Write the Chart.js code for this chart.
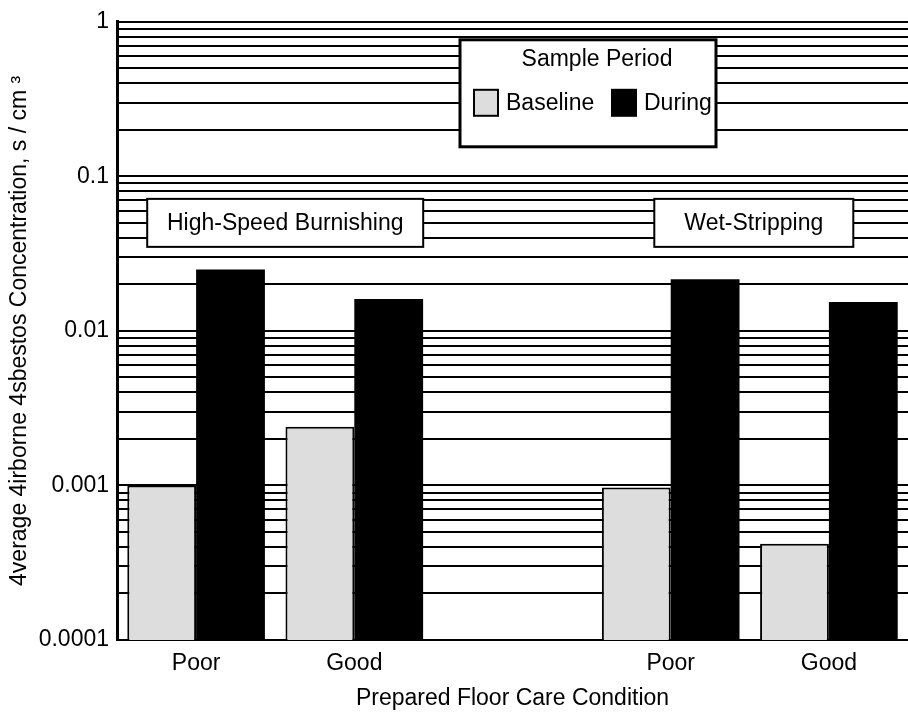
<!DOCTYPE html>
<html>
<head>
<meta charset="utf-8">
<title>Airborne Asbestos Concentration</title>
<script src="https://cdn.jsdelivr.net/npm/chart.js@4"></script>
<style>
    html, body { margin: 0; padding: 0; background: #fff; }
    #wrap { width: 908px; height: 712px; position: relative; }
</style>
</head>
<body>
<div id="wrap"><canvas id="chart"></canvas></div>
<script>
// data
const categories = ['Poor', 'Good', '', 'Poor', 'Good'];
const baseline = [0.001, 0.0024, null, 0.00097, 0.00042];
const during = [0.025, 0.0161, null, 0.0216, 0.0154];
const seriesNames = ['Baseline', 'During'];
const yDecadeLabels = ['0.0001', '0.001', '0.01', '0.1', '1'];
const minorSteps = [2, 3, 4, 5, 6, 7, 8, 9];
const groupNotes = ['High-Speed Burnishing', 'Wet-Stripping'];
const legendTitle = 'Sample Period';
const xTitle = 'Prepared Floor Care Condition';
const yTitle = '4verage 4irborne 4sbestos Concentration, s / cm \u00b3';

const FONT = '"Liberation Sans", Arial, sans-serif';
const GRAY = '#dddddd';
const decades = yDecadeLabels.map(Number);

// gridline positions: every decade plus 2..9 inside it
const yTickValues = [];
decades.forEach((d, i) => {
    yTickValues.push(d);
    if (i < decades.length - 1) {
        minorSteps.forEach(k => yTickValues.push(d * k));
    }
});

// boxes over the two groups: [first category, last category, x shift, width]
const notes = [
    { text: groupNotes[0], from: 0, to: 1, shift: 10, w: 276 },
    { text: groupNotes[1], from: 3, to: 4, shift: 4, w: 199 }
];
const noteLevel = 0.05;

const notesPlugin = {
    id: 'notes',
    afterDatasetsDraw(chart) {
        const { ctx, scales: { x, y }, chartArea } = chart;
        ctx.save();
        ctx.font = '23px ' + FONT;
        ctx.textBaseline = 'middle';
        ctx.textAlign = 'center';

        notes.forEach(n => {
            const cx = (x.getPixelForValue(n.from) + x.getPixelForValue(n.to)) / 2 + n.shift;
            const cy = y.getPixelForValue(noteLevel);
            const h = 48;
            ctx.fillStyle = '#fff';
            ctx.fillRect(cx - n.w / 2, cy - h / 2, n.w, h);
            ctx.strokeStyle = '#000';
            ctx.lineWidth = 2;
            ctx.strokeRect(cx - n.w / 2, cy - h / 2, n.w, h);
            ctx.fillStyle = '#000';
            ctx.fillText(n.text, cx, cy + 1);
        });

        // legend box
        const lx = chartArea.left + 343;
        const ly = chartArea.top + 18;
        const lw = 256, lh = 107;
        ctx.fillStyle = '#fff';
        ctx.fillRect(lx, ly, lw, lh);
        ctx.strokeStyle = '#000';
        ctx.lineWidth = 3;
        ctx.strokeRect(lx, ly, lw, lh);

        ctx.fillStyle = '#000';
        ctx.fillText(legendTitle, lx + lw / 2 + 9, ly + 20);

        ctx.textAlign = 'left';
        const rowY = ly + 63;
        const fills = [GRAY, '#000'];
        const swatchX = [lx + 14, lx + 152];
        seriesNames.forEach((name, i) => {
            const sx = swatchX[i];
            ctx.fillStyle = fills[i];
            ctx.fillRect(sx, rowY - 13, 24, 26);
            ctx.lineWidth = 2;
            ctx.strokeStyle = '#000';
            ctx.strokeRect(sx, rowY - 13, 24, 26);
            ctx.fillStyle = '#000';
            ctx.fillText(name, sx + 32, rowY + 1);
        });
        ctx.restore();
    }
};

const ctx = document.getElementById('chart').getContext('2d');
new Chart(ctx, {
    type: 'bar',
    data: {
        labels: categories,
        datasets: [
            {
                label: seriesNames[0],
                data: baseline,
                backgroundColor: GRAY,
                borderColor: '#000',
                borderWidth: 2,
                borderSkipped: 'bottom'
            },
            {
                label: seriesNames[1],
                data: during,
                backgroundColor: '#000',
                borderWidth: 0
            }
        ]
    },
    options: {
        responsive: true,
        maintainAspectRatio: false,
        animation: false,
        layout: { padding: { top: 20, right: 0, bottom: 0, left: 0 } },
        categoryPercentage: 0.87,
        barPercentage: 1.0,
        plugins: {
            legend: { display: false },
            tooltip: { enabled: false }
        },
        scales: {
            x: {
                grid: { display: false },
                border: { display: true, color: '#000', width: 2 },
                ticks: {
                    color: '#000',
                    font: { family: FONT, size: 23 },
                    padding: 2,
                    maxRotation: 0
                },
                title: {
                    display: true,
                    text: xTitle,
                    color: '#000',
                    font: { family: FONT, size: 23 },
                    padding: { top: 0, bottom: 0 }
                },
                afterFit(scale) { scale.height = 72; }
            },
            y: {
                type: 'logarithmic',
                min: decades[0],
                max: decades[decades.length - 1],
                grid: { color: '#000', lineWidth: 2, drawTicks: false },
                border: { display: true, color: '#000', width: 3 },
                ticks: {
                    color: '#000',
                    font: { family: FONT, size: 23 },
                    padding: 8,
                    autoSkip: false,
                    callback: (v) => {
                        const i = decades.findIndex(d => Math.abs(d - v) < d * 1e-6);
                        return i >= 0 ? yDecadeLabels[i] : '';
                    }
                },
                afterBuildTicks(scale) {
                    scale.ticks = yTickValues.map(v => ({ value: v }));
                },
                title: {
                    display: true,
                    text: yTitle,
                    color: '#000',
                    font: { family: FONT, size: 23 },
                    padding: { top: 6, bottom: 0 }
                },
                afterFit(scale) { scale.width = 117; }
            }
        }
    },
    plugins: [notesPlugin]
});
</script>
</body>
</html>
